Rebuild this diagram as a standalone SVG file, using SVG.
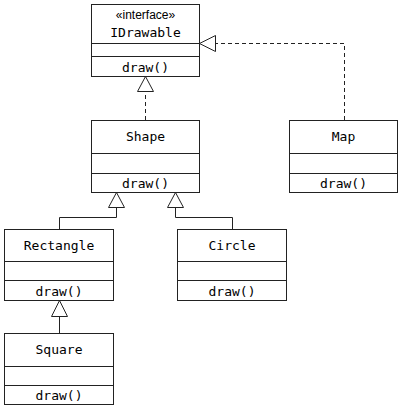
<svg xmlns="http://www.w3.org/2000/svg" width="402" height="409" viewBox="0 0 402 409">
<style>
.box{fill:#fff;stroke:#222;stroke-width:1}
.sep{stroke:#222;stroke-width:1}
.t{font-family:"DejaVu Sans Mono","Liberation Mono",monospace;font-size:13px;fill:#000;text-anchor:middle}
.st{font-family:"Liberation Sans",Arial,sans-serif;font-size:12px;fill:#000;text-anchor:middle}
.c{fill:none;stroke:#222;stroke-width:1}
.d{fill:none;stroke:#222;stroke-width:1;stroke-dasharray:4 3}
.tri{fill:#fff;stroke:#222;stroke-width:1}
</style>
<g id="connectors">
<path class="d" d="M344.5,120 V43.5 H215"/>
<polygon class="tri" points="199.5,43.5 215.5,35.5 215.5,51.5"/>
<path class="d" d="M145.5,120 V91.5"/>
<polygon class="tri" points="145.5,76.5 137.5,91.5 153.5,91.5"/>
<path class="c" d="M59.5,229 V217.5 H116.5 V207.5"/>
<polygon class="tri" points="116.5,192.5 108.5,207.5 124.5,207.5"/>
<path class="c" d="M232.5,229 V217.5 H175.5 V207.5"/>
<polygon class="tri" points="175.5,192.5 167.5,207.5 183.5,207.5"/>
<path class="c" d="M59.5,333 V316.5"/>
<polygon class="tri" points="59.5,300.5 51.5,316.5 67.5,316.5"/>
</g>
<g id="IDrawable">
<rect class="box" x="91.5" y="4.5" width="108" height="72"/>
<line class="sep" x1="91.5" y1="43.5" x2="199.5" y2="43.5"/>
<line class="sep" x1="91.5" y1="56.5" x2="199.5" y2="56.5"/>
<text class="st" x="145.5" y="19">«interface»</text>
<text class="t" x="145.5" y="37">IDrawable</text>
<text class="t" x="145.5" y="72">draw()</text>
</g>
<g id="Shape">
<rect class="box" x="91.5" y="120.5" width="108" height="72"/>
<line class="sep" x1="91.5" y1="153.5" x2="199.5" y2="153.5"/>
<line class="sep" x1="91.5" y1="173.5" x2="199.5" y2="173.5"/>
<text class="t" x="145.5" y="141">Shape</text>
<text class="t" x="145.5" y="188">draw()</text>
</g>
<g id="Map">
<rect class="box" x="289.5" y="120.5" width="108" height="72"/>
<line class="sep" x1="289.5" y1="153.5" x2="397.5" y2="153.5"/>
<line class="sep" x1="289.5" y1="173.5" x2="397.5" y2="173.5"/>
<text class="t" x="343.5" y="141">Map</text>
<text class="t" x="343.5" y="188">draw()</text>
</g>
<g id="Rectangle">
<rect class="box" x="4.5" y="229.5" width="109" height="71"/>
<line class="sep" x1="4.5" y1="261.5" x2="113.5" y2="261.5"/>
<line class="sep" x1="4.5" y1="280.5" x2="113.5" y2="280.5"/>
<text class="t" x="59" y="250">Rectangle</text>
<text class="t" x="59" y="296">draw()</text>
</g>
<g id="Circle">
<rect class="box" x="177.5" y="229.5" width="109" height="71"/>
<line class="sep" x1="177.5" y1="261.5" x2="286.5" y2="261.5"/>
<line class="sep" x1="177.5" y1="280.5" x2="286.5" y2="280.5"/>
<text class="t" x="232" y="250">Circle</text>
<text class="t" x="232" y="296">draw()</text>
</g>
<g id="Square">
<rect class="box" x="4.5" y="333.5" width="109" height="71"/>
<line class="sep" x1="4.5" y1="366.5" x2="113.5" y2="366.5"/>
<line class="sep" x1="4.5" y1="385.5" x2="113.5" y2="385.5"/>
<text class="t" x="59" y="354">Square</text>
<text class="t" x="59" y="400">draw()</text>
</g>
</svg>
